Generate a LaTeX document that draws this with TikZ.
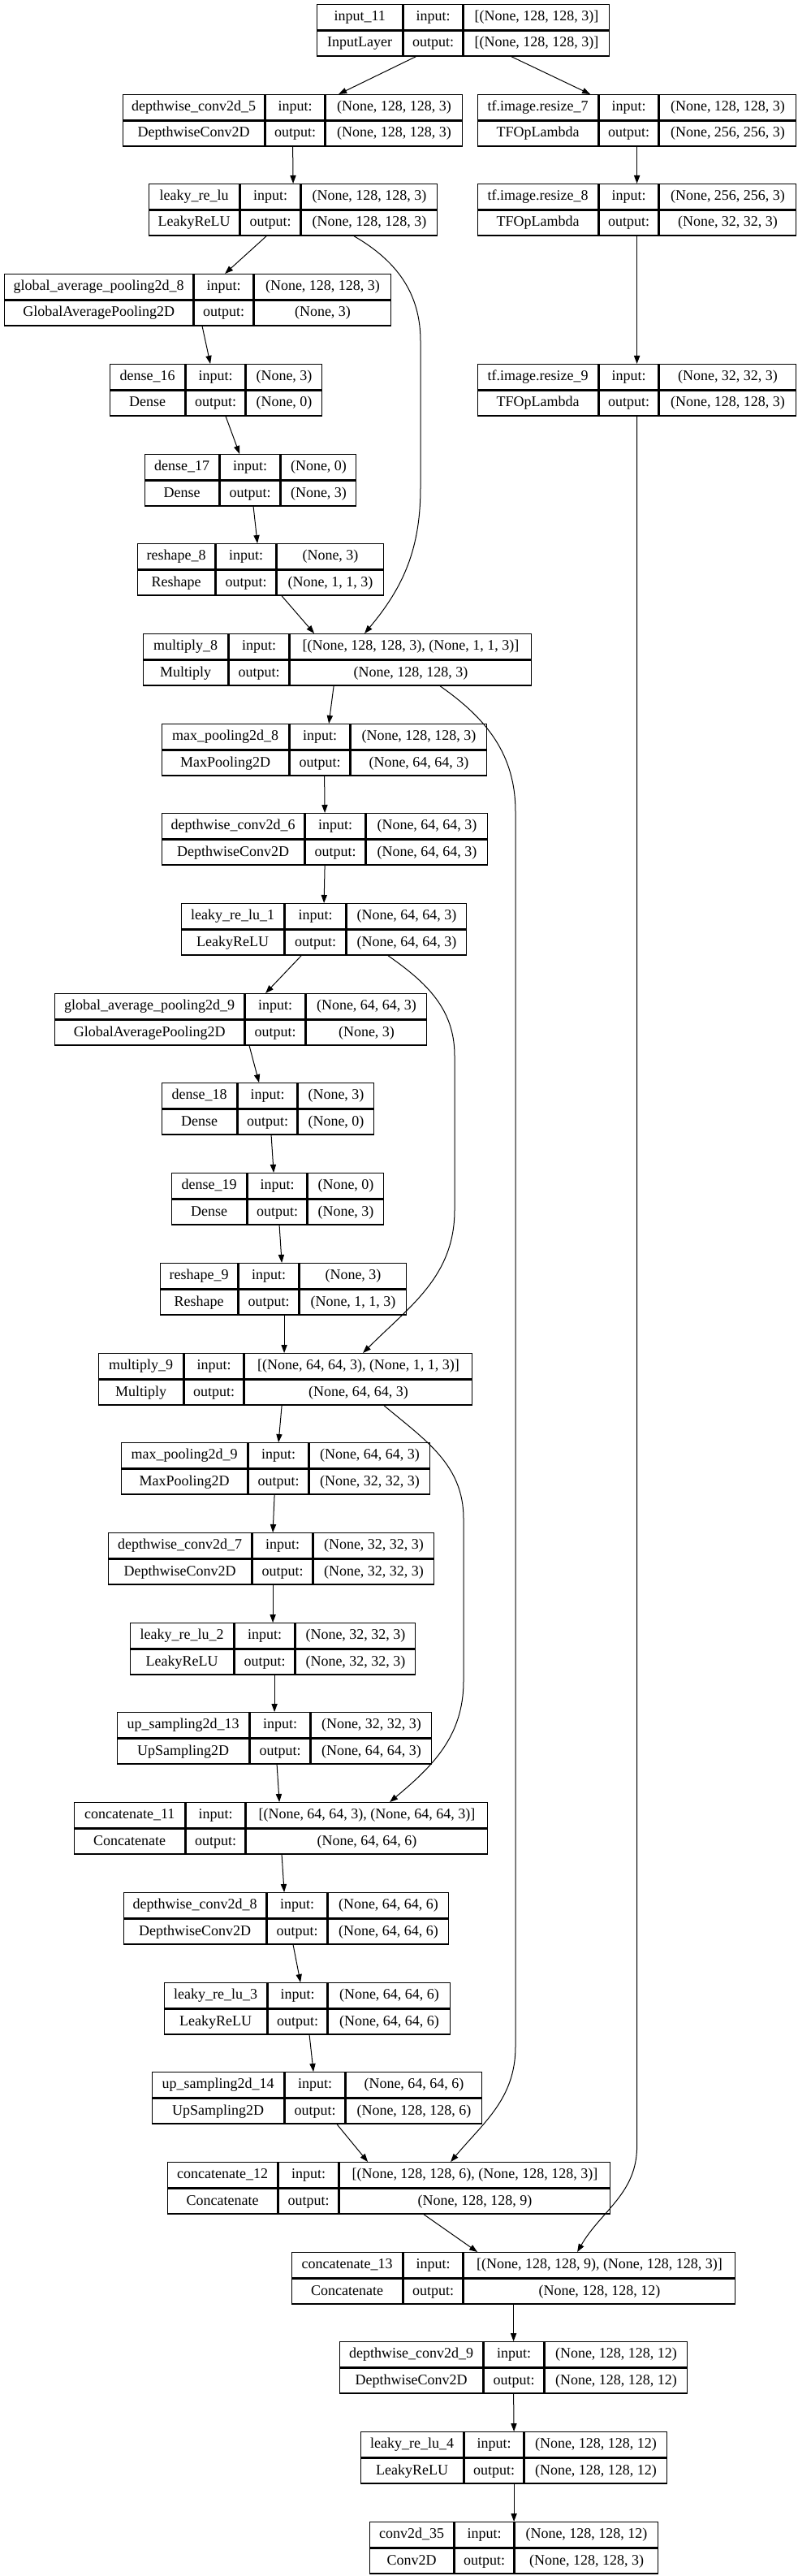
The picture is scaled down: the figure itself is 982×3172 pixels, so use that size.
\documentclass[tikz,border=0pt]{standalone}
\usepackage{fontspec}
\setmainfont{Liberation Serif}
\usetikzlibrary{matrix,arrows.meta}

\tikzset{
  layer/.style n args={3}{matrix of nodes, nodes in empty cells, anchor=north west,
    inner sep=0pt, outer sep=0pt, column sep=0pt, row sep=0pt,
    nodes={draw, line width=0.7pt, inner sep=0pt, outer sep=0pt,
      font=\fontsize{9pt}{11pt}\selectfont, text height=6.4pt, text depth=2pt, minimum height=15.5pt},
    column 1/.style={nodes={minimum width=#1*0.5pt}},
    column 2/.style={nodes={minimum width=#2*0.5pt}},
    column 3/.style={nodes={minimum width=#3*0.5pt}}},
  link/.style={-{Triangle[length=5pt,width=3.6pt]}, line width=0.5pt},
}

\begin{document}
\begin{tikzpicture}[x=0.5pt,y=-0.5pt]
\useasboundingbox (0,0) rectangle (982,3172);

\matrix (in11) [layer={105}{73}{179}] at (390,5) {
  input\_11 & input: & {[(None, 128, 128, 3)]} \\
  InputLayer & output: & {[(None, 128, 128, 3)]} \\
};
\matrix (dwconv5) [layer={174}{73}{168}] at (151,116) {
  depthwise\_conv2d\_5 & input: & (None, 128, 128, 3) \\
  DepthwiseConv2D & output: & (None, 128, 128, 3) \\
};
\matrix (resize7) [layer={148}{73}{168}] at (588,116) {
  tf.image.resize\_7 & input: & (None, 128, 128, 3) \\
  TFOpLambda & output: & (None, 256, 256, 3) \\
};
\matrix (lrelu) [layer={111}{74}{167}] at (183,226) {
  leaky\_re\_lu & input: & (None, 128, 128, 3) \\
  LeakyReLU & output: & (None, 128, 128, 3) \\
};
\matrix (resize8) [layer={148}{73}{168}] at (588,226) {
  tf.image.resize\_8 & input: & (None, 256, 256, 3) \\
  TFOpLambda & output: & (None, 32, 32, 3) \\
};
\matrix (gap8) [layer={232}{73}{168}] at (5,337) {
  global\_average\_pooling2d\_8 & input: & (None, 128, 128, 3) \\
  GlobalAveragePooling2D & output: & (None, 3) \\
};
\matrix (dense16) [layer={92}{73}{93}] at (135,448) {
  dense\_16 & input: & (None, 3) \\
  Dense & output: & (None, 0) \\
};
\matrix (resize9) [layer={148}{73}{168}] at (588,448) {
  tf.image.resize\_9 & input: & (None, 32, 32, 3) \\
  TFOpLambda & output: & (None, 128, 128, 3) \\
};
\matrix (dense17) [layer={91}{74}{92}] at (178,559) {
  dense\_17 & input: & (None, 0) \\
  Dense & output: & (None, 3) \\
};
\matrix (reshape8) [layer={95}{74}{131}] at (169,669) {
  reshape\_8 & input: & (None, 3) \\
  Reshape & output: & (None, 1, 1, 3) \\
};
\matrix (mult8) [layer={104}{74}{297}] at (176,780) {
  multiply\_8 & input: & {[(None, 128, 128, 3), (None, 1, 1, 3)]} \\
  Multiply & output: & (None, 128, 128, 3) \\
};
\matrix (maxpool8) [layer={156}{74}{167}] at (199,891) {
  max\_pooling2d\_8 & input: & (None, 128, 128, 3) \\
  MaxPooling2D & output: & (None, 64, 64, 3) \\
};
\matrix (dwconv6) [layer={175}{74}{149}] at (199,1001) {
  depthwise\_conv2d\_6 & input: & (None, 64, 64, 3) \\
  DepthwiseConv2D & output: & (None, 64, 64, 3) \\
};
\matrix (lrelu1) [layer={126}{75}{147}] at (223,1112) {
  leaky\_re\_lu\_1 & input: & (None, 64, 64, 3) \\
  LeakyReLU & output: & (None, 64, 64, 3) \\
};
\matrix (gap9) [layer={233}{74}{148}] at (67,1223) {
  global\_average\_pooling2d\_9 & input: & (None, 64, 64, 3) \\
  GlobalAveragePooling2D & output: & (None, 3) \\
};
\matrix (dense18) [layer={92}{73}{93}] at (199,1333) {
  dense\_18 & input: & (None, 3) \\
  Dense & output: & (None, 0) \\
};
\matrix (dense19) [layer={92}{73}{93}] at (211,1444) {
  dense\_19 & input: & (None, 0) \\
  Dense & output: & (None, 3) \\
};
\matrix (reshape9) [layer={95}{74}{131}] at (197,1555) {
  reshape\_9 & input: & (None, 3) \\
  Reshape & output: & (None, 1, 1, 3) \\
};
\matrix (mult9) [layer={104}{73}{280}] at (121,1666) {
  multiply\_9 & input: & {[(None, 64, 64, 3), (None, 1, 1, 3)]} \\
  Multiply & output: & (None, 64, 64, 3) \\
};
\matrix (maxpool9) [layer={155}{74}{148}] at (149,1776) {
  max\_pooling2d\_9 & input: & (None, 64, 64, 3) \\
  MaxPooling2D & output: & (None, 32, 32, 3) \\
};
\matrix (dwconv7) [layer={176}{74}{148}] at (133,1887) {
  depthwise\_conv2d\_7 & input: & (None, 32, 32, 3) \\
  DepthwiseConv2D & output: & (None, 32, 32, 3) \\
};
\matrix (lrelu2) [layer={127}{74}{147}] at (160,1998) {
  leaky\_re\_lu\_2 & input: & (None, 32, 32, 3) \\
  LeakyReLU & output: & (None, 32, 32, 3) \\
};
\matrix (upsamp13) [layer={162}{74}{148}] at (144,2108) {
  up\_sampling2d\_13 & input: & (None, 32, 32, 3) \\
  UpSampling2D & output: & (None, 64, 64, 3) \\
};
\matrix (concat11) [layer={136}{73}{297}] at (91,2219) {
  concatenate\_11 & input: & {[(None, 64, 64, 3), (None, 64, 64, 3)]} \\
  Concatenate & output: & (None, 64, 64, 6) \\
};
\matrix (dwconv8) [layer={175}{74}{148}] at (152,2330) {
  depthwise\_conv2d\_8 & input: & (None, 64, 64, 6) \\
  DepthwiseConv2D & output: & (None, 64, 64, 6) \\
};
\matrix (lrelu3) [layer={126}{73}{150}] at (202,2441) {
  leaky\_re\_lu\_3 & input: & (None, 64, 64, 6) \\
  LeakyReLU & output: & (None, 64, 64, 6) \\
};
\matrix (upsamp14) [layer={162}{74}{167}] at (187,2551) {
  up\_sampling2d\_14 & input: & (None, 64, 64, 6) \\
  UpSampling2D & output: & (None, 128, 128, 6) \\
};
\matrix (concat12) [layer={135}{74}{333}] at (206,2662) {
  concatenate\_12 & input: & {[(None, 128, 128, 6), (None, 128, 128, 3)]} \\
  Concatenate & output: & (None, 128, 128, 9) \\
};
\matrix (concat13) [layer={136}{73}{334}] at (359,2773) {
  concatenate\_13 & input: & {[(None, 128, 128, 9), (None, 128, 128, 3)]} \\
  Concatenate & output: & (None, 128, 128, 12) \\
};
\matrix (dwconv9) [layer={176}{74}{175}] at (418,2883) {
  depthwise\_conv2d\_9 & input: & (None, 128, 128, 12) \\
  DepthwiseConv2D & output: & (None, 128, 128, 12) \\
};
\matrix (lrelu4) [layer={126}{73}{175}] at (444,2994) {
  leaky\_re\_lu\_4 & input: & (None, 128, 128, 12) \\
  LeakyReLU & output: & (None, 128, 128, 12) \\
};
\matrix (conv35) [layer={103}{73}{176}] at (455,3105) {
  conv2d\_35 & input: & (None, 128, 128, 12) \\
  Conv2D & output: & (None, 128, 128, 3) \\
};

% connectors
\draw[link] ([xshift=-29.25pt]in11.south) -- ([xshift=28.25pt]dwconv5.north);
\draw[link] ([xshift=29.75pt]in11.south) -- ([xshift=-28.75pt]resize7.north);
\draw[link] (dwconv5.south) -- (lrelu.north);
\draw[link] (resize7.south) -- (resize8.north);
\draw[link] ([xshift=-16.5pt]lrelu.south) -- ([xshift=16.75pt]gap8.north);
\draw[link] ([xshift=37.5pt]lrelu.south) to[out=-30,in=90] (518,420) -- (518,600)
  to[out=-90,in=50] ([xshift=16.75pt]mult8.north);
\draw[link] (resize8.south) -- (resize9.north);
\draw[link] ([xshift=2.75pt]gap8.south) -- ([xshift=-3.5pt]dense16.north);
\draw[link] ([xshift=6pt]dense16.south) -- ([xshift=-6.75pt]dense17.north);
\draw[link] ([xshift=1.75pt]dense17.south) -- ([xshift=-2pt]reshape8.north);
\draw[link] ([xshift=13pt]reshape8.south) -- ([xshift=-14.25pt]mult8.north);
\draw[link] (resize9.south) -- ++(0,2130) to[out=-90,in=60] ([xshift=39.25pt]concat13.north);
\draw[link] ([xshift=-2.25pt]mult8.south) -- ([xshift=2.75pt]maxpool8.north);
\draw[link] ([xshift=63.25pt]mult8.south) to[out=-35,in=90] (635,1000) -- (635,2520)
  to[out=-90,in=50] ([xshift=38pt]concat12.north);
\draw[link] (maxpool8.south) -- (dwconv6.north);
\draw[link] (dwconv6.south) -- (lrelu1.north);
\draw[link] ([xshift=-14pt]lrelu1.south) -- ([xshift=15.25pt]gap9.north);
\draw[link] ([xshift=39.5pt]lrelu1.south) to[out=-35,in=90] (560,1300) -- (560,1490)
  to[out=-90,in=45] ([xshift=47.75pt]mult9.north);
\draw[link] ([xshift=5.25pt]gap9.south) -- ([xshift=-5.5pt]dense18.north);
\draw[link] ([xshift=2pt]dense18.south) -- ([xshift=-2.5pt]dense19.north);
\draw[link] ([xshift=1pt]dense19.south) -- ([xshift=-1pt]reshape9.north);
\draw[link] ([xshift=0.5pt]reshape9.south) -- ([xshift=-0.75pt]mult9.north);
\draw[link] ([xshift=-2.25pt]mult9.south) -- ([xshift=1.75pt]maxpool9.north);
\draw[link] ([xshift=60.75pt]mult9.south) to[out=-40,in=90] (571,1870) -- (571,2070)
  to[out=-90,in=40] ([xshift=67pt]concat11.north);
\draw[link] ([xshift=-0.75pt]maxpool9.south) -- ([xshift=1pt]dwconv7.north);
\draw[link] ([xshift=1pt]dwconv7.south) -- (lrelu2.north);
\draw[link] ([xshift=1pt]lrelu2.south) -- (upsamp13.north);
\draw[link] ([xshift=1.5pt]upsamp13.south) -- ([xshift=-1pt]concat11.north);
\draw[link] ([xshift=0.5pt]concat11.south) -- ([xshift=-1.25pt]dwconv8.north);
\draw[link] ([xshift=4.25pt]dwconv8.south) -- ([xshift=-4.25pt]lrelu3.north);
\draw[link] ([xshift=1.25pt]lrelu3.south) -- ([xshift=-2.25pt]upsamp14.north);
\draw[link] ([xshift=12.25pt]upsamp14.south) -- ([xshift=-13pt]concat12.north);
\draw[link] ([xshift=21.5pt]concat12.south) -- ([xshift=-22.25pt]concat13.north);
\draw[link] (concat13.south) -- (dwconv9.north);
\draw[link] (dwconv9.south) -- (lrelu4.north);
\draw[link] (lrelu4.south) -- (conv35.north);
\end{tikzpicture}
\end{document}
